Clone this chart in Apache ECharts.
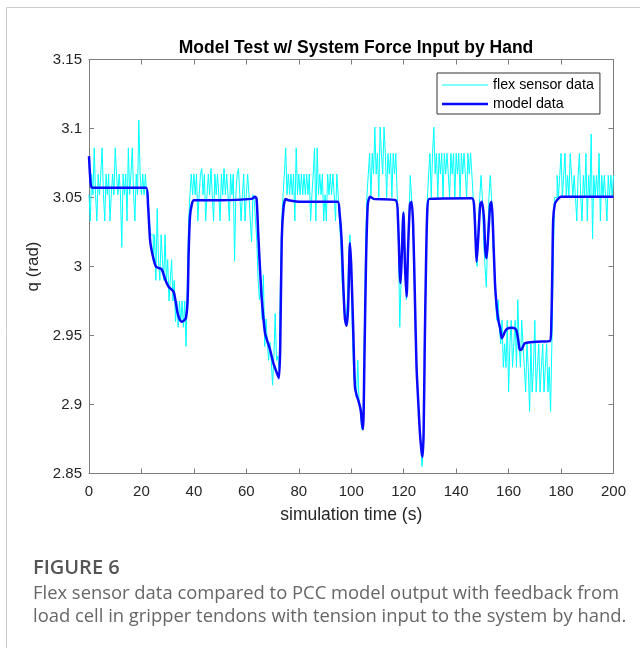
<!DOCTYPE html>
<html>
<head>
<meta charset="utf-8">
<script src="https://cdn.jsdelivr.net/npm/echarts@6/dist/echarts.min.js"></script>
<style>
html,body{margin:0;padding:0;background:#fff;}
#chart{width:640px;height:648px;}
</style>
</head>
<body>
<div id="chart"></div>
<script>
const titleText = 'Model Test w/ System Force Input by Hand';
const xAxisName = 'simulation time (s)';
const yAxisName = 'q (rad)';
const seriesNames = ['flex sensor data', 'model data'];
const xTicks = {min: 0, max: 200, interval: 20};
const yTicks = {min: 2.85, max: 3.15, interval: 0.05};
const figureLabel = 'FIGURE 6';
const captionLines = [
  'Flex sensor data compared to PCC model output with feedback from',
  'load cell in gripper tendons with tension input to the system by hand.'
];

// flex sensor data: [time (s), q (rad)]
const sensorData = [
[0,3.052],[0.5,3.033],[1,3.067],[1.5,3.052],[2,3.086],[2.5,3.052],[3,3.033],[3.5,3.067],[4,3.052],[4.5,3.067],
[5,3.086],[5.5,3.052],[6,3.033],[6.5,3.067],[7,3.052],[7.5,3.067],[8,3.033],[8.5,3.052],[9,3.067],[9.5,3.052],
[10,3.086],[10.5,3.067],[11,3.052],[11.5,3.067],[12,3.052],[12.5,3.014],[13,3.067],[13.5,3.052],[14,3.067],[14.5,3.033],
[15,3.086],[15.5,3.052],[16,3.067],[16.5,3.086],[17,3.052],[17.5,3.033],[18,3.067],[18.5,3.052],[19,3.106],[19.5,3.067],
[20,3.052],[20.5,3.067],[21,3.052],[21.5,3.067],[22,3.052],
[22.5,3.048],[23,3.033],[23.5,3.023],[24,3.023],[24.5,3.005],[25,3.023],[25.5,2.99],[26,3.042],[26.5,3.005],[27,2.99],
[27.5,3.023],[28,3.005],[28.5,2.99],[29,3.023],[29.5,2.99],[30,3.005],[30.5,2.975],[31,2.99],[31.5,3.005],[32,2.975],
[32.5,2.99],[33,2.96],[33.5,2.975],[34,2.956],[34.5,2.975],[35,2.96],[35.5,2.975],[36,2.956],[36.5,2.975],[37,2.942],
[37.5,2.99],[38,3.033],[38.5,3.052],[39,3.067],
[39.5,3.052],[40,3.067],[40.5,3.052],[41,3.067],[41.5,3.033],[42,3.052],[42.5,3.067],[43,3.071],[43.5,3.052],[44,3.067],
[44.5,3.033],[45,3.052],[45.5,3.067],[46,3.052],[46.5,3.071],[47,3.052],[47.5,3.033],[48,3.067],[48.5,3.052],[49,3.067],
[49.5,3.052],[50,3.033],[50.5,3.067],[51,3.052],[51.5,3.071],[52,3.052],[52.5,3.067],[53,3.052],[53.5,3.033],[54,3.067],
[54.5,3.052],[55,3.067],[55.5,3.004],[56,3.052],[56.5,3.067],[57,3.071],[57.5,3.052],[58,3.033],[58.5,3.052],[59,3.067],
[59.5,3.033],[60,3.052],[60.5,3.067],[61,3.052],[61.5,3.033],[62,3.018],[62.5,3.052],[63,3.048],[63.5,3.033],
[64,3.018],[64.5,2.99],[65,2.976],[65.5,2.99],[66,2.962],[66.5,2.994],[67,2.942],[67.5,2.962],[68,2.945],[68.5,2.932],
[69,2.945],[69.5,2.932],[70,2.914],[70.5,2.935],[71,2.966],[71.5,2.932],[72,2.935],[72.5,2.925],[73,2.99],[73.5,3.033],
[74,3.052],[74.5,3.067],
[75,3.086],[75.5,3.052],[76,3.067],[76.5,3.052],[77,3.067],[77.5,3.052],[78,3.067],[78.5,3.033],[79,3.086],[79.5,3.052],
[80,3.067],[80.5,3.052],[81,3.067],[81.5,3.052],[82,3.067],[82.5,3.052],[83,3.067],[83.5,3.052],[84,3.067],[84.5,3.033],
[85,3.052],[85.5,3.067],[86,3.086],[86.5,3.033],[87,3.086],[87.5,3.052],[88,3.067],[88.5,3.052],[89,3.067],[89.5,3.033],
[90,3.052],[90.5,3.033],[91,3.067],[91.5,3.052],[92,3.067],[92.5,3.052],[93,3.067],[93.5,3.052],[94,3.033],[94.5,3.067],
[95,3.052],
[95.5,3.033],[96,3.018],[96.5,2.99],[97,2.976],[97.5,2.962],[98,2.958],[98.5,2.976],[99,3.005],[99.5,3.023],[100,2.99],
[100.5,2.947],[101,2.92],[101.5,2.913],[102,2.905],[102.5,2.932],[103,2.9],[103.5,2.895],[104,2.882],[104.5,2.886],[105,2.95],
[105.5,3.018],[106,3.052],
[106.5,3.067],[107,3.082],[107.5,3.05],[108,3.082],[108.5,3.067],[109,3.101],[109.5,3.067],[110,3.082],[110.5,3.05],[111,3.101],
[111.5,3.082],[112,3.067],[112.5,3.101],[113,3.082],[113.5,3.05],[114,3.082],[114.5,3.067],[115,3.082],[115.5,3.05],[116,3.082],
[116.5,3.067],[117,3.082],[117.5,3.052],
[118,3.018],[118.5,2.956],[119,2.99],[119.5,3.033],[120,3.04],[120.5,3.005],[121,2.976],[121.5,3.0],[122,3.033],[122.5,3.066],
[123,3.05],[123.5,3.033],[124,2.99],[124.5,2.95],[125,2.925],[125.5,2.905],[126,2.885],[126.5,2.872],[127,2.855],[127.5,2.872],
[128,2.93],[128.5,3.005],[129,3.048],
[129.5,3.067],[130,3.082],[130.5,3.05],[131,3.082],[131.5,3.101],[132,3.067],[132.5,3.082],[133,3.05],[133.5,3.082],[134,3.067],
[134.5,3.082],[135,3.05],[135.5,3.082],[136,3.067],[136.5,3.082],[137,3.067],[137.5,3.05],[138,3.082],[138.5,3.067],[139,3.082],
[139.5,3.05],[140,3.082],[140.5,3.067],[141,3.082],[141.5,3.05],[142,3.082],[142.5,3.067],[143,3.082],[143.5,3.067],[144,3.05],
[144.5,3.082],[145,3.067],[145.5,3.082],[146,3.067],[146.5,3.05],
[147,3.033],[147.5,3.014],[148,3.0],[148.5,3.033],[149,3.05],[149.5,3.066],[150,3.05],[150.5,3.018],[151,3.0],[151.5,2.985],
[152,3.018],[152.5,3.05],[153,3.066],[153.5,3.05],[154,3.018],
[154.5,3.0],[155,2.976],[155.5,2.961],[156,2.976],[156.5,2.956],[157,2.944],[157.5,2.961],[158,2.927],[158.5,2.944],[159,2.927],
[159.5,2.961],[160,2.909],[160.5,2.944],[161,2.961],[161.5,2.927],[162,2.944],[162.5,2.961],[163,2.927],[163.5,2.976],[164,2.944],
[164.5,2.927],[165,2.961],[165.5,2.944],[166,2.927],[166.5,2.909],[167,2.944],[167.5,2.927],[168,2.895],[168.5,2.944],[169,2.909],
[169.5,2.927],[170,2.961],[170.5,2.909],[171,2.927],[171.5,2.944],[172,2.909],[172.5,2.927],[173,2.944],[173.5,2.909],[174,2.927],
[174.5,2.944],[175,2.909],[175.5,2.927],[176,2.895],[176.5,2.944],[177,3.0],[177.5,3.05],
[178,3.05],[178.5,3.066],[179,3.05],[179.5,3.066],[180,3.082],[180.5,3.05],[181,3.066],[181.5,3.082],[182,3.05],[182.5,3.066],
[183,3.05],[183.5,3.082],[184,3.066],[184.5,3.05],[185,3.066],[185.5,3.05],[186,3.033],[186.5,3.066],[187,3.082],[187.5,3.05],
[188,3.033],[188.5,3.066],[189,3.05],[189.5,3.082],[190,3.033],[190.5,3.066],[191,3.05],[191.5,3.096],[192,3.02],[192.5,3.066],
[193,3.05],[193.5,3.066],[194,3.05],[194.5,3.082],[195,3.033],[195.5,3.066],[196,3.05],[196.5,3.066],[197,3.05],[197.5,3.033],
[198,3.066],[198.5,3.05],[199,3.066],[199.5,3.05],[200,3.066]
];

// model data: [time (s), q (rad)]
const modelData = [
[0,3.080],[0.4,3.066],[0.8,3.058],[1.5,3.057],[10,3.057],[21.8,3.057],[22.5,3.045],[23.3,3.019],[24.3,3.008],[25.5,3.0],
[26.5,2.999],[27.7,2.998],[28.5,2.994],[29.4,2.989],[30.5,2.985],[32.2,2.982],[33.0,2.975],[33.7,2.967],[34.5,2.962],[35.3,2.960],
[36.3,2.961],[37.0,2.963],[37.6,2.975],[38.0,3.01],[38.5,3.036],[39.2,3.045],[40,3.048],[50,3.048],[62,3.049],[63.3,3.0505],
[63.9,3.049],[64.5,3.025],[65.3,2.995],[65.9,2.976],[67.1,2.952],[68.0,2.946],[69.0,2.940],[70.3,2.930],[71.6,2.923],[72.4,2.919],
[72.9,2.94],[73.5,3.02],[74.2,3.043],[75.0,3.049],[76,3.048],[80,3.047],[94.8,3.047],[95.5,3.04],[96.3,3.02],[97.0,2.985],
[97.6,2.962],[98.2,2.957],[98.8,2.97],[99.5,3.017],[100.0,3.0],[100.8,2.951],[101.4,2.913],[102.0,2.907],[102.7,2.903],[103.6,2.896],
[104.1,2.886],[104.5,2.882],[105.0,2.93],[105.6,3.0],[106.3,3.045],[107.2,3.0505],[108.5,3.049],[117,3.048],[117.8,3.035],[118.5,2.995],
[118.8,2.988],[119.3,3.01],[119.9,3.039],[120.5,3.0],[121.1,2.978],[121.7,3.015],[122.4,3.045],[123.0,3.047],[123.6,3.03],[124.3,2.975],
[124.9,2.927],[125.6,2.90],[126.2,2.879],[126.8,2.866],[127.2,2.862],[127.6,2.88],[128.0,2.94],[128.5,3.0],[129.0,3.04],[129.8,3.049],
[146,3.0495],[146.8,3.045],[147.4,3.02],[147.8,3.0035],[148.4,3.02],[149.2,3.045],[149.8,3.047],[150.6,3.035],[151.1,3.012],[151.6,3.006],
[152.3,3.025],[153.0,3.045],[153.5,3.047],[154.0,3.03],[154.8,2.988],[155.5,2.97],[156.1,2.961],[156.8,2.955],[157.4,2.948],[158.0,2.950],
[158.6,2.9528],[159.5,2.955],[161.2,2.9556],[162.5,2.955],[163.1,2.953],[163.8,2.945],[164.3,2.9395],[165.0,2.940],[166.0,2.944],[166.9,2.9448],
[170.7,2.9455],[175.8,2.946],[176.3,2.96],[176.7,3.0],[177.0,3.0337],[177.6,3.045],[178.3,3.0477],[180,3.0505],[200,3.0505]
];

const chart = echarts.init(document.getElementById('chart'), null, {renderer: 'canvas'});
const FONT = 'Liberation Sans, Arial, Helvetica, sans-serif';
const AXIS_COLOR = '#7d7d7d';
const LABEL_COLOR = '#262626';
const SENSOR_COLOR = '#00ffff';
const MODEL_COLOR = '#0a0aff';

function xAx(pos, show) {
  return {
    type: 'value', position: pos, min: xTicks.min, max: xTicks.max, interval: xTicks.interval,
    name: show ? xAxisName : '', nameLocation: 'middle', nameGap: 33,
    nameTextStyle: {fontFamily: FONT, fontSize: 17.5, color: LABEL_COLOR},
    axisLine: {show: true, onZero: false, lineStyle: {color: AXIS_COLOR, width: 1}},
    axisTick: {show: true, inside: true, length: 5, lineStyle: {color: AXIS_COLOR}},
    axisLabel: {show: show, margin: 11, fontFamily: FONT, fontSize: 15, color: LABEL_COLOR},
    splitLine: {show: false}
  };
}
function yAx(pos, show) {
  return {
    type: 'value', position: pos, min: yTicks.min, max: yTicks.max, interval: yTicks.interval,
    name: show ? yAxisName : '', nameLocation: 'middle', nameGap: 40, nameRotate: 90,
    nameTextStyle: {fontFamily: FONT, fontSize: 17, color: LABEL_COLOR},
    axisLine: {show: true, onZero: false, lineStyle: {color: AXIS_COLOR, width: 1}},
    axisTick: {show: true, inside: true, length: 5, lineStyle: {color: AXIS_COLOR}},
    axisLabel: {show: show, margin: 7, fontFamily: FONT, fontSize: 15, color: LABEL_COLOR,
      formatter: function (v) { return String(Math.round(v * 100) / 100); }},
    splitLine: {show: false}
  };
}

chart.setOption({
  animation: false,
  backgroundColor: '#ffffff',
  title: {
    text: titleText, left: 351, top: 34, textAlign: 'center',
    textStyle: {fontFamily: FONT, fontSize: 17.5, fontWeight: 'bold', color: '#000'}
  },
  grid: {left: 89, right: 26.5, top: 59.5, bottom: 174.5, containLabel: false},
  xAxis: [xAx('bottom', true), xAx('top', false)],
  yAxis: [yAx('left', true), yAx('right', false)],
  legend: {
    orient: 'vertical', left: 437, top: 73,
    padding: [5, 6, 3, 5], itemGap: 5, itemWidth: 46, itemHeight: 14,
    backgroundColor: '#fff', borderColor: '#333', borderWidth: 1,
    symbolKeepAspect: true,
    textStyle: {fontFamily: FONT, fontSize: 14.3, color: '#000'},
    data: [
      {name: seriesNames[0], icon: 'path://M0,0L46,0L46,1.2L0,1.2Z', itemStyle: {color: SENSOR_COLOR}},
      {name: seriesNames[1], icon: 'path://M0,0L46,0L46,2.6L0,2.6Z', itemStyle: {color: MODEL_COLOR}}
    ]
  },
  series: [
    {
      name: seriesNames[0], type: 'line', data: sensorData, xAxisIndex: 0, yAxisIndex: 0,
      symbol: 'none', showSymbol: false, step: 'end', lineStyle: {color: SENSOR_COLOR, width: 1},
      itemStyle: {color: SENSOR_COLOR}, z: 2
    },
    {
      name: seriesNames[1], type: 'line', data: modelData, xAxisIndex: 0, yAxisIndex: 0,
      symbol: 'none', showSymbol: false, smooth: 0.25,
      lineStyle: {color: MODEL_COLOR, width: 2.5},
      itemStyle: {color: MODEL_COLOR}, z: 3
    }
  ],
  graphic: [
    {type: 'rect', silent: true, shape: {x: 6.5, y: 7.5, width: 1000, height: 1000},
     style: {fill: 'none', stroke: '#cccccc', lineWidth: 1}, z: -10},
    {type: 'text', left: 33, top: 558, style: {text: figureLabel, fontFamily: 'Open Sans', fontSize: 20, fontWeight: 600, fill: '#555555'}},
    {type: 'text', left: 33, top: 585, style: {text: captionLines[0], fontFamily: 'Open Sans', fontSize: 18.4, fill: '#666666'}},
    {type: 'text', left: 33, top: 608, style: {text: captionLines[1], fontFamily: 'Open Sans', fontSize: 18.4, fill: '#666666'}}
  ]
});
</script>
</body>
</html>
